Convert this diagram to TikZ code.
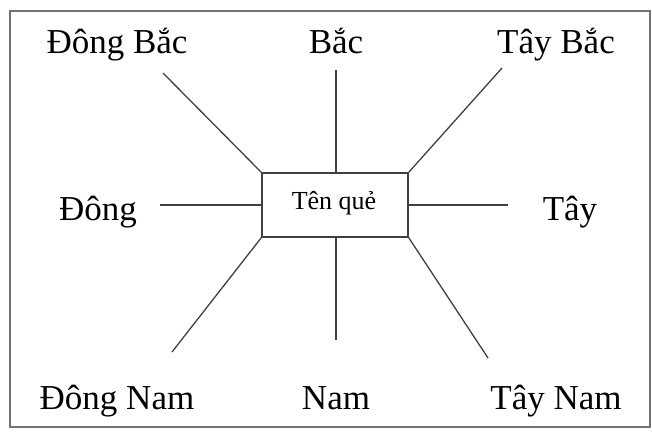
\documentclass[tikz,border=0pt]{standalone}
\usepackage{fontspec}
\setmainfont{Liberation Serif}
\begin{document}
\begin{tikzpicture}[x=1pt,y=-1pt,
  lbl/.style={font=\fontsize{35}{38}\selectfont, inner sep=0pt, anchor=base},
  ln/.style={line width=1.3pt, draw=black!75},
  frame/.style={line width=1.8pt, draw=black!55}]
\useasboundingbox (0,0) rectangle (652,431);
\draw[frame] (10,11) rectangle (650,427);
\node[draw=black!75, line width=1.5pt, minimum width=146pt, minimum height=64pt, inner sep=0pt] (c) at (335,205) {};
\node[font=\fontsize{26}{28}\selectfont, inner sep=0pt, anchor=base] (ct) at (334,209) {Tên quẻ};
\node[lbl] (db) at (117,53) {Đông Bắc};
\node[lbl] (b) at (336,53) {Bắc};
\node[lbl] (tb) at (556,53) {Tây Bắc};
\node[lbl] (d) at (98,220) {Đông};
\node[lbl] (t) at (570,220) {Tây};
\node[lbl] (dn) at (117,409) {Đông Nam};
\node[lbl] (n) at (336,409) {Nam};
\node[lbl] (tn) at (556,409) {Tây Nam};
\coordinate (pdb) at (163,73);
\coordinate (pb) at (336,70);
\coordinate (ptb) at (502,68);
\coordinate (pd) at (160,205);
\coordinate (pt) at (508,205);
\coordinate (pdn) at (172,352);
\coordinate (pn) at (336,340);
\coordinate (ptn) at (488,358);
\draw[ln] (pdb) -- (c.north west);
\draw[ln] (pb) -- (c.north -| pb);
\draw[ln] (ptb) -- (c.north east);
\draw[ln] (pd) -- (c.west);
\draw[ln] (pt) -- (c.east);
\draw[ln] (pdn) -- (c.south west);
\draw[ln] (pn) -- (c.south -| pn);
\draw[ln] (ptn) -- (c.south east);
\end{tikzpicture}
\end{document}
